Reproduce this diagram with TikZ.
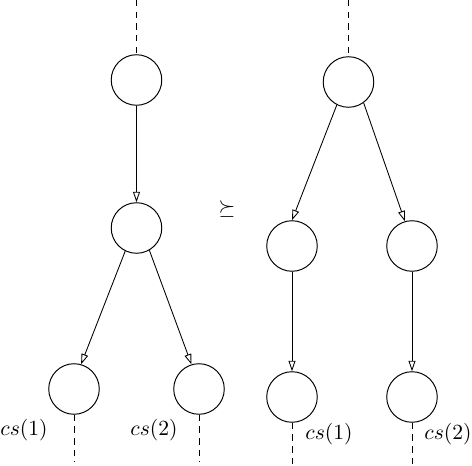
\documentclass[tikz,border=0pt]{standalone}
\usetikzlibrary{arrows.meta}
\begin{document}
\begin{tikzpicture}[x=0.463pt,y=-0.463pt,
  vtx/.style={draw,circle,line width=0.45pt,minimum size=23.4pt,inner sep=0pt},
  edge/.style={line width=0.4pt,-{Triangle[open,length=4.8pt,width=3.2pt]}},
  cont/.style={line width=0.45pt,dashed,dash pattern=on 3pt off 2.4pt},
  lbl/.style={inner sep=0pt}]
\useasboundingbox (0,0) rectangle (472,466);
% left tree
\node[vtx] (L1) at (136.5,80) {};
\node[vtx] (L2) at (136.5,228) {};
\node[vtx] (L3) at (74,389) {};
\node[vtx] (L4) at (199,389) {};
\coordinate (L1t) at (136.5,0);
\coordinate (L3b) at (74,462);
\coordinate (L4b) at (199,462);
\draw[cont] (L1t) -- (L1.north);
\draw[cont] (L3.south) -- (L3b);
\draw[cont] (L4.south) -- (L4b);
\draw[edge] (L1.south) -- (L2.north);
\draw[edge] (L2.-116) -- (L3.74);
\draw[edge] (L2.-60) -- (L4.107);
\node[lbl] (c1) at (24,430) {$cs(1)$};
\node[lbl] (c2) at (154,430) {$cs(2)$};
% relation
\node[lbl] (rel) at (227,209) {$\succeq$};
% right tree
\node[vtx] (R1) at (348.5,82) {};
\node[vtx] (R2) at (292,246) {};
\node[vtx] (R3) at (412,246) {};
\node[vtx] (R4) at (292,397) {};
\node[vtx] (R5) at (412,397) {};
\coordinate (R1t) at (348.5,0);
\coordinate (R4b) at (292,466);
\coordinate (R5b) at (412,466);
\draw[cont] (R1t) -- (R1.north);
\draw[cont] (R4.south) -- (R4b);
\draw[cont] (R5.south) -- (R5b);
\draw[edge] (R1.-117) -- (R2.north);
\draw[edge] (R1.-54) -- (R3.106);
\draw[edge] (R2.south) -- (R4.north);
\draw[edge] (R3.south) -- (R5.north);
\node[lbl] (c3) at (329,434) {$cs(1)$};
\node[lbl] (c4) at (448,434) {$cs(2)$};
\end{tikzpicture}
\end{document}
